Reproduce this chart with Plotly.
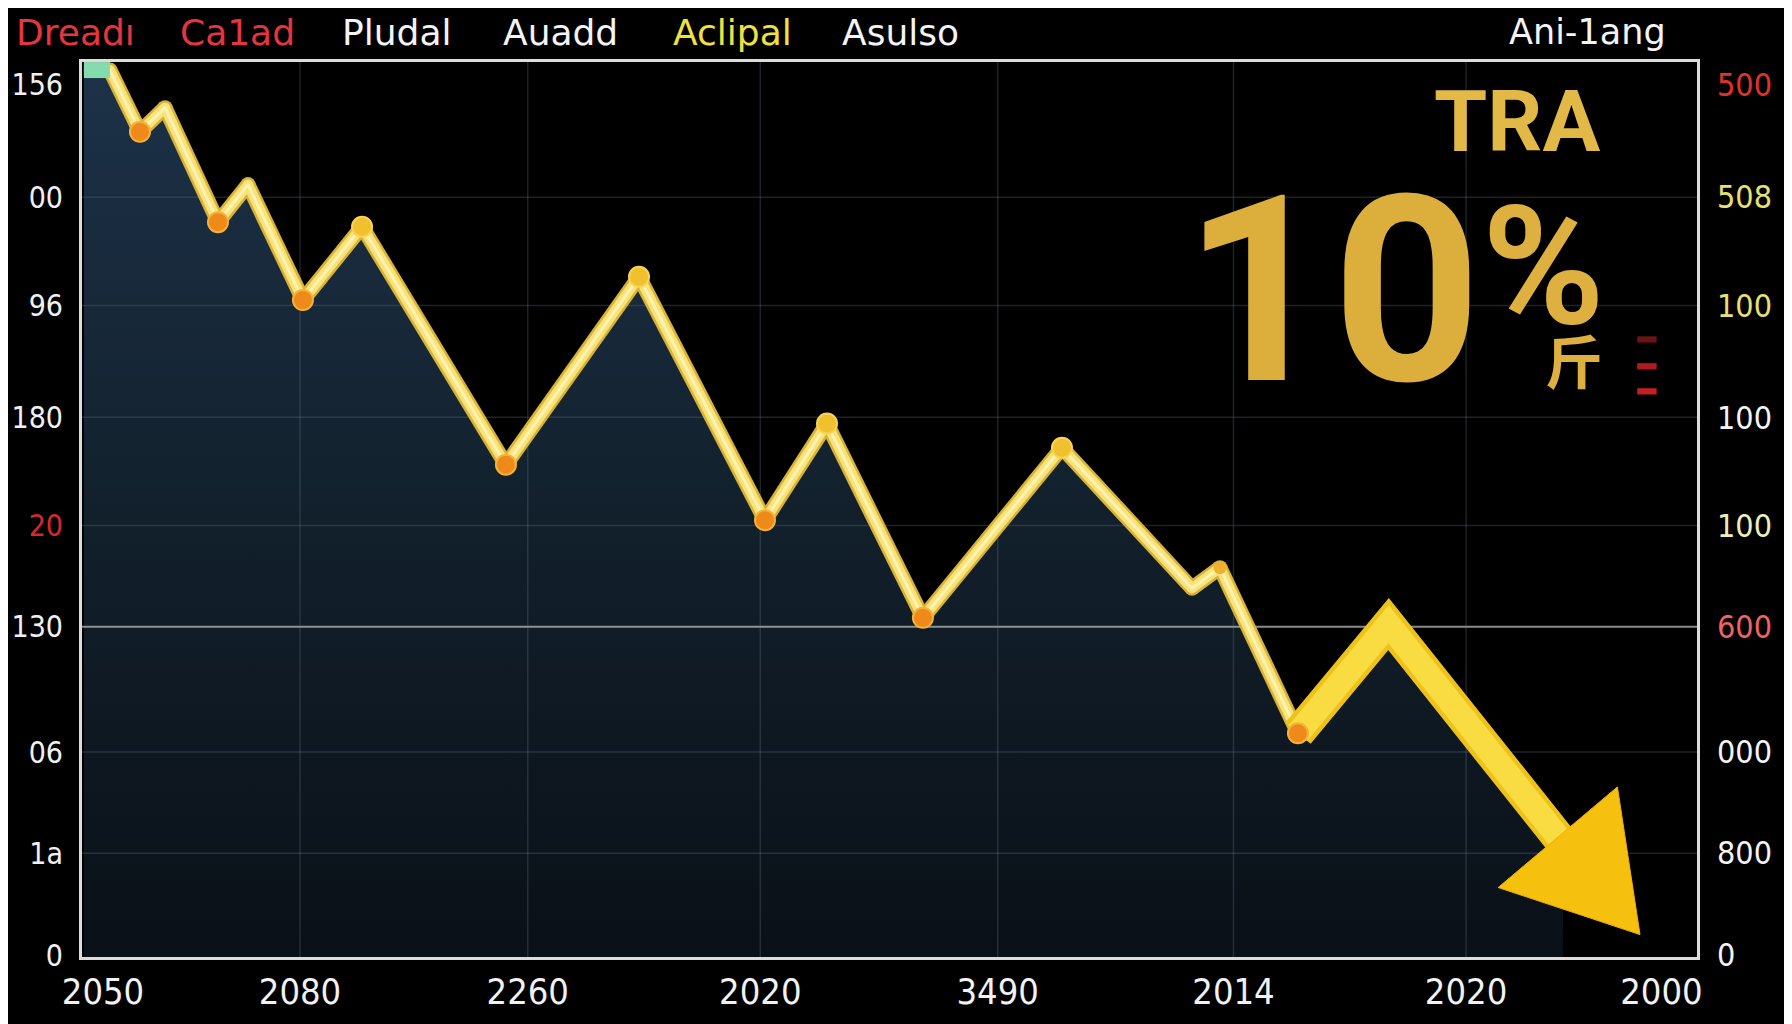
import plotly.graph_objects as go

# ---------------- data ----------------
line_x = [0.12, 1.73, 3.59, 5.14, 8.42, 10.28, 13.68, 17.34, 26.25, 34.49,
          42.29, 46.13, 52.07, 60.68, 68.73, 70.46, 75.29]
line_y = [99.1, 99.1, 92.2, 94.9, 82.1, 86.3, 73.4, 81.6, 55.0, 76.0,
          48.8, 59.6, 37.9, 56.9, 41.2, 43.5, 25.0]
arrow_x = [75.29, 80.9, 91.70]
arrow_y = [25.0, 37.2, 12.7]
arrow_tip_x = 96.47
arrow_tip_y = 2.5

x_tick_vals = [1.3, 13.5, 27.6, 42.0, 56.7, 71.3, 85.7, 97.8]
x_tick_labels = ["2050", "2080", "2260", "2020", "3490", "2014", "2020", "2000"]
y_tick_vals = [0.2, 11.6, 22.9, 36.9, 48.2, 60.3, 72.8, 84.9, 97.5]
y_left_labels = ["0", "1a", "06", "130", "20", "180", "96", "00", "156"]
y_right_labels = ["0", "800", "000", "600", "100", "100", "100", "508", "500"]
legend_labels = ["Dreadı", "Ca1ad", "Pludal", "Auadd", "Aclipal", "Asulso"]
corner_label = "Ani-1ang"
big_title = "TRA"
big_value = "10"
big_pct = "%"
big_unit = "斤"

# ---------------- styles ----------------
BG = "#000000"
left_label_colors = ["#f0f0f0", "#f0f0f0", "#f0f0f0", "#f0f0f0", "#d8282c",
                     "#f0f0f0", "#f0f0f0", "#f0f0f0", "#f0f0f0"]
right_label_colors = ["#f4f4f4", "#f4f4f4", "#f4f4f4", "#ee6464", "#eeeeb8",
                      "#f4f4f4", "#e8e070", "#e8e070", "#e2322e"]
legend_colors = ["#e5363f", "#e5363f", "#f4f4f4", "#f4f4f4", "#f0e23c", "#f4f4f4"]
legend_centers = [-0.004, 0.096, 0.195, 0.296, 0.4025, 0.507]
marker_idx = [2, 4, 6, 7, 8, 9, 10, 11, 12, 13, 16]
small_marker_idx = [15]

W, H = 1792, 1024
M_L, M_R, M_T, M_B = 74, 103, 54, 75
PLOT_L, PLOT_R, PLOT_T, PLOT_B = M_L, W - M_R, M_T, H - M_B
PXX = (PLOT_R - PLOT_L) / 100.0
PXY = (PLOT_B - PLOT_T) / 100.0

fig = go.Figure()

# area fill under the line (including the arrow shaft)
fill_x = line_x + arrow_x[1:]
fill_y = line_y + arrow_y[1:]
fig.add_trace(go.Scatter(
    x=fill_x, y=fill_y, mode="lines", line=dict(width=0, color="rgba(0,0,0,0)"),
    fill="tozeroy",
    fillgradient=dict(type="vertical",
                      colorscale=[[0, "#0a1017"], [0.55, "#13222f"], [1, "#1d3249"]],
                      start=0, stop=100),
    hoverinfo="skip"))

# grid lines (drawn above the fill, below the line)
for i, yv in enumerate(y_tick_vals[1:8], start=1):
    bright = (i == 3)
    fig.add_trace(go.Scatter(
        x=[0, 100], y=[yv, yv], mode="lines",
        line=dict(color="rgba(185,185,185,0.75)" if bright else "rgba(110,122,138,0.28)",
                  width=2 if bright else 1.5),
        hoverinfo="skip"))
for xv in x_tick_vals[1:7]:
    fig.add_trace(go.Scatter(
        x=[xv, xv], y=[0, 100], mode="lines",
        line=dict(color="rgba(110,122,138,0.28)", width=1.5), hoverinfo="skip"))


def round_line(xs, ys, color, width):
    """Line drawn as separate segments + vertex dots -> round joins."""
    sx, sy = [], []
    for i in range(len(xs) - 1):
        sx += [xs[i], xs[i + 1], None]
        sy += [ys[i], ys[i + 1], None]
    fig.add_trace(go.Scatter(x=sx, y=sy, mode="lines", connectgaps=False,
                             line=dict(color=color, width=width), hoverinfo="skip"))
    fig.add_trace(go.Scatter(x=xs[1:-1], y=ys[1:-1], mode="markers",
                             marker=dict(size=width, color=color, line=dict(width=0)),
                             hoverinfo="skip"))


# main line: outer + inner layers
round_line(line_x, line_y, "#d9b335", 15)
round_line(line_x, line_y, "#f6e37c", 10)
round_line(line_x, line_y, "#fff2b0", 3)
# teal start segment
fig.add_trace(go.Scatter(x=line_x[:2], y=line_y[:2], mode="lines",
                         line=dict(color="#84dbae", width=16), hoverinfo="skip"))

# arrow shaft
fig.add_trace(go.Scatter(x=arrow_x, y=arrow_y, mode="lines",
                         line=dict(color="#efc21a", width=33), hoverinfo="skip"))
fig.add_trace(go.Scatter(x=arrow_x, y=arrow_y, mode="lines",
                         line=dict(color="#f9dc42", width=24), hoverinfo="skip"))


# markers (troughs orange, peaks gold)
def is_trough(i):
    prev_y = line_y[i - 1] if i > 0 else line_y[i]
    next_y = line_y[i + 1] if i + 1 < len(line_y) else arrow_y[1]
    return line_y[i] < prev_y and line_y[i] < next_y


mk_x = [line_x[i] for i in marker_idx]
mk_y = [line_y[i] for i in marker_idx]
mk_c = ["#ee8a1a" if is_trough(i) else "#f1c02e" for i in marker_idx]
mk_l = ["#f6b13a" if is_trough(i) else "#f8d455" for i in marker_idx]
fig.add_trace(go.Scatter(x=mk_x, y=mk_y, mode="markers",
                         marker=dict(size=20, color=mk_c, line=dict(color=mk_l, width=2)),
                         hoverinfo="skip"))
fig.add_trace(go.Scatter(x=[line_x[i] for i in small_marker_idx],
                         y=[line_y[i] for i in small_marker_idx], mode="markers",
                         marker=dict(size=13, color="#efb030"), hoverinfo="skip"))

# invisible trace so the right axis renders
fig.add_trace(go.Scatter(x=[0], y=[0], yaxis="y2", mode="markers",
                         marker=dict(opacity=0), hoverinfo="skip"))

# arrow head (triangle computed from shaft end and tip)
bx = PLOT_L + arrow_x[-1] * PXX
by = PLOT_B - arrow_y[-1] * PXY
tx = PLOT_L + arrow_tip_x * PXX
ty = PLOT_B - arrow_tip_y * PXY
dx, dy = tx - bx, ty - by
ln = (dx * dx + dy * dy) ** 0.5
ux, uy = dx / ln, dy / ln
px_, py_ = uy, -ux
HALF = 78
bx -= ux * 8
by -= uy * 8
w1 = (bx + px_ * HALF, by + py_ * HALF)
w2 = (bx - px_ * HALF, by - py_ * HALF)
to_d = lambda p: ((p[0] - PLOT_L) / PXX, (PLOT_B - p[1]) / PXY)
pts = [to_d((tx, ty)), to_d(w1), to_d(w2)]
path = "M {} {} L {} {} L {} {} Z".format(pts[0][0], pts[0][1], pts[1][0], pts[1][1],
                                          pts[2][0], pts[2][1])

shapes = [dict(type="path", path=path, xref="x", yref="y",
               fillcolor="#f6c00e", line=dict(color="#f2b000", width=1), layer="above")]
# small red dashes next to the big number (paper coords)
for yc, col in [(0.690, "#6a1414"), (0.660, "#b01c1c"), (0.632, "#c42020")]:
    shapes.append(dict(type="rect", xref="paper", yref="paper",
                       x0=0.963, x1=0.975, y0=yc - 0.0035, y1=yc + 0.0035,
                       fillcolor=col, line=dict(width=0), layer="above"))


def span(t, c):
    return "<span style='color:{}'>{}</span>".format(c, t)


annotations = []
for lab, col, xc in zip(legend_labels, legend_colors, legend_centers):
    annotations.append(dict(text=lab, x=xc, y=1.0335, xref="paper", yref="paper",
                            showarrow=False, xanchor="center", yanchor="middle",
                            font=dict(family="DejaVu Sans", size=36, color=col)))
annotations.append(dict(text=corner_label, x=0.932, y=1.0335, xref="paper", yref="paper",
                        showarrow=False, xanchor="center", yanchor="middle",
                        font=dict(family="DejaVu Sans", size=35, color="#f4f4f4")))
gold = "#dcae3c"
annotations.append(dict(text=big_title, x=0.8885, y=0.934, xref="paper", yref="paper",
                        showarrow=False, xanchor="center", yanchor="middle",
                        font=dict(family="Roboto", size=86, color="#e2b846", weight="bold")))
annotations.append(dict(text=big_value, x=0.774, y=0.744, xref="paper", yref="paper",
                        showarrow=False, xanchor="center", yanchor="middle",
                        font=dict(family="Roboto", size=260, color=gold, weight="bold")))
annotations.append(dict(text=big_pct, x=0.905, y=0.772, xref="paper", yref="paper",
                        showarrow=False, xanchor="center", yanchor="middle",
                        font=dict(family="Roboto", size=166, color="#deb040", weight="bold")))
annotations.append(dict(text=big_unit, x=0.924, y=0.668, xref="paper", yref="paper",
                        showarrow=False, xanchor="center", yanchor="middle",
                        font=dict(family="Noto Sans CJK SC", size=58, color="#deb040",
                                  weight="bold")))

axis_line = dict(showline=True, linecolor="#dcdcdc", linewidth=3, mirror=True)

fig.update_layout(
    width=W, height=H,
    paper_bgcolor=BG, plot_bgcolor=BG,
    margin=dict(l=M_L, r=M_R, t=M_T, b=M_B),
    showlegend=False, hovermode=False,
    xaxis=dict(range=[0, 100], tickvals=x_tick_vals, ticktext=x_tick_labels,
               showgrid=False, zeroline=False, ticks="", ticklabelstandoff=1,
               automargin=False,
               tickfont=dict(family="DejaVu Sans Condensed, Liberation Sans Narrow, DejaVu Sans",
                             size=36, color="#f2f2f2"), **axis_line),
    yaxis=dict(range=[0, 100], tickvals=y_tick_vals,
               ticktext=[span(t, c) for t, c in zip(y_left_labels, left_label_colors)],
               showgrid=False, zeroline=False, ticks="", ticklabelstandoff=10,
               automargin=False,
               tickfont=dict(family="DejaVu Sans Condensed, DejaVu Sans", size=30,
                             color="#f0f0f0"), **axis_line),
    yaxis2=dict(range=[0, 100], overlaying="y", side="right", tickvals=y_tick_vals,
                ticktext=[span(t, c) for t, c in zip(y_right_labels, right_label_colors)],
                showgrid=False, zeroline=False, showline=False, ticks="",
                ticklabelstandoff=19, automargin=False,
                tickfont=dict(family="DejaVu Sans Condensed, DejaVu Sans", size=32,
                              color="#f4f4f4")),
    shapes=shapes, annotations=annotations,
)

fig.write_html("out.html")
